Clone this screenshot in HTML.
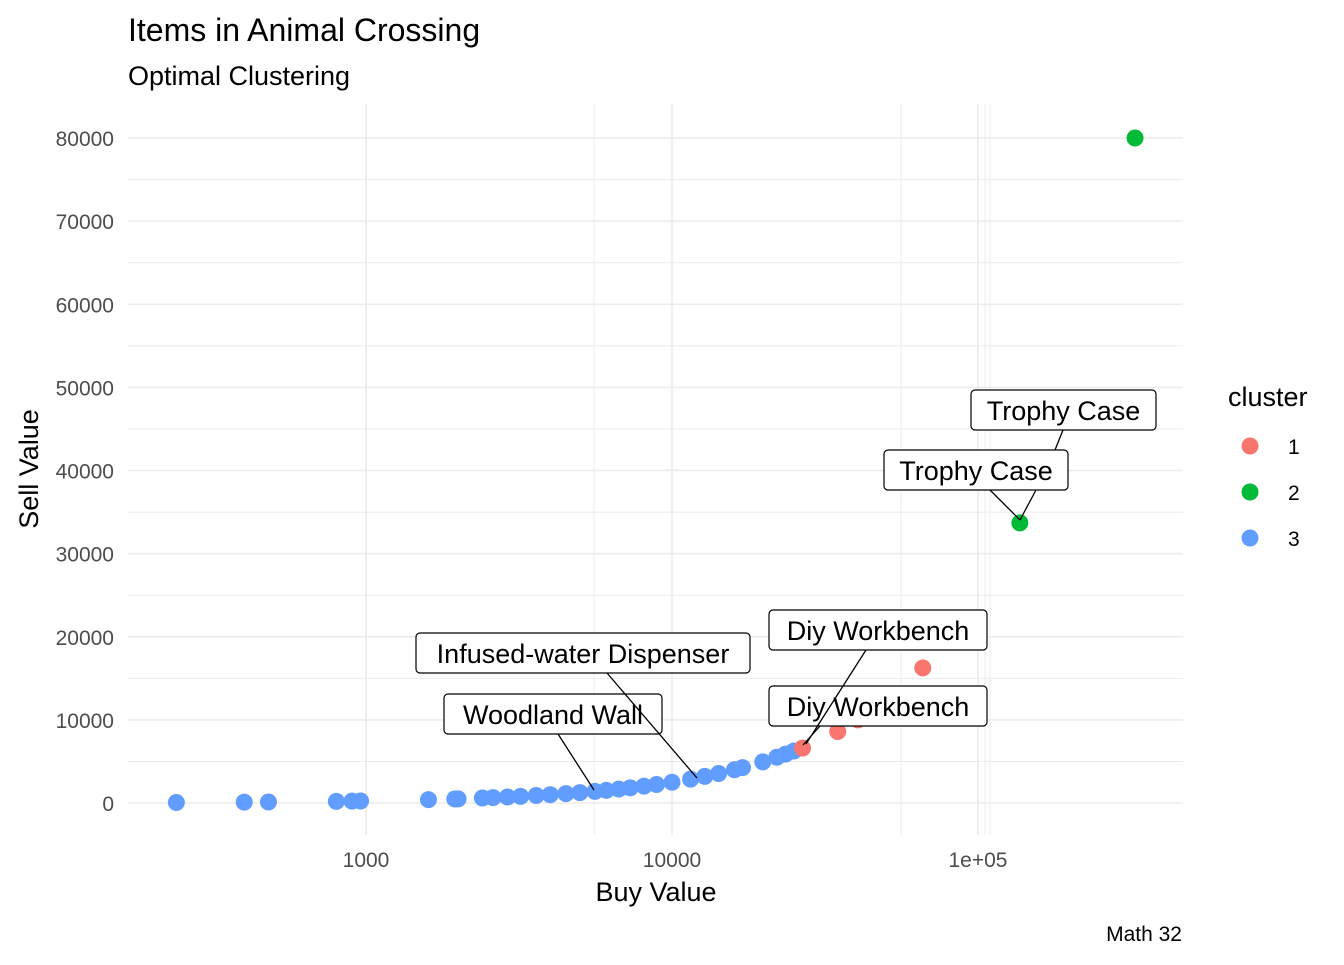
<!DOCTYPE html>
<html><head><meta charset="utf-8"><style>
body{margin:0;background:#fff;font-family:"Liberation Sans",Arial,sans-serif}
svg text{font-family:"Liberation Sans",Arial,sans-serif}
</style></head><body>
<svg id="c" width="1344" height="960">
<rect width="1344" height="960" fill="#fff"/>
<text x="128" y="41" font-size="32" fill="#000">Items in Animal Crossing</text>
<text x="128" y="85" font-size="27" fill="#000">Optimal Clustering</text>
<g id="grid"></g>
<g id="yticks"></g>
<g id="xticks"></g>
<text x="656" y="901" font-size="27" text-anchor="middle">Buy Value</text>
<text transform="translate(38,469) rotate(-90)" font-size="27" text-anchor="middle">Sell Value</text>
<g id="pts"></g>
<g id="labels"></g>
<g id="legend">
<text x="1228" y="406" font-size="27">cluster</text>
</g>
<text x="1182" y="941" font-size="21" text-anchor="end">Math 32</text>
</svg>
<script>
const NS="http://www.w3.org/2000/svg";
const yTicks=[0,10000,20000,30000,40000,50000,60000,70000,80000];
const xTicks=[1000,10000,100000];
const xTickLabels=["1000","10000","1e+05"];
const clusterNames=["1","2","3"];
const clusterColors=["#F8766D","#00BA38","#619CFF"];
const buy3=[240,400,480,800,900,960,1600,1950,2000,2400,2600,2900,3200,3600,4000,4500,5000,5600,6100,6700,7300,8100,8900,10000,11500,12800,14200,16000,17000,19800,22000,23500,25000];
const sell3=[60,100,120,200,225,240,400,488,500,600,650,725,800,900,1000,1125,1250,1400,1525,1675,1825,2025,2225,2500,2875,3200,3550,4000,4250,4950,5500,5875,6250];
const buy1=[26700,34800,40500,66000];
const sell1=[6600,8600,10000,16250];
const buy2=[137000,326000];
const sell2=[33700,80000];
const X=v=>366+306*(Math.log10(v)-3);
const Y=v=>803-v*665/80000;
function el(t,a,p){const e=document.createElementNS(NS,t);for(const k in a)e.setAttribute(k,a[k]);p.appendChild(e);return e;}
const g=document.getElementById('grid');
for(let i=0;i<=16;i++){const v=i*5000;const l=el('line',{x1:128,x2:1183,y1:Y(v),y2:Y(v),stroke:'#ebebeb','stroke-width':i%2?1:1.6},g);

}
[594,901,985,990].forEach(x=>{const l=el('line',{x1:x,x2:x,y1:104,y2:835,stroke:'#ebebeb','stroke-width':1},g);

});
xTicks.forEach(v=>{const l=el('line',{x1:X(v),x2:X(v),y1:104,y2:835,stroke:'#ebebeb','stroke-width':1.6},g);

});
const yt=document.getElementById('yticks');
yTicks.forEach(v=>{const t=el('text',{x:114,y:Y(v)+8,'font-size':21,'text-anchor':'end',fill:'#4d4d4d'},yt);t.textContent=v;

});
const xt=document.getElementById('xticks');
xTicks.forEach((v,i)=>{const t=el('text',{x:X(v),y:867,'font-size':21,'text-anchor':'middle',fill:'#4d4d4d'},xt);t.textContent=xTickLabels[i];

});
const P=document.getElementById('pts');
[[buy3,sell3,2],[buy1,sell1,0],[buy2,sell2,1]].forEach(([b,s,c])=>{b.forEach((v,i)=>{const e=el('circle',{cx:X(v),cy:Y(s[i]),r:8.5,fill:clusterColors[c]},P);

});});
const L=document.getElementById('labels');
const boxes=[[971,390,185,"Trophy Case"],[884,450,184,"Trophy Case"],[769,610,218,"Diy Workbench"],[769,686,218,"Diy Workbench"],[416,633,334,"Infused-water Dispenser"],[444,694,218,"Woodland Wall"]];
boxes.forEach(b=>{const r=el('rect',{x:b[0],y:b[1],width:b[2],height:40,rx:4,fill:'#fff',stroke:'#000','stroke-width':1.2},L);


const t=el('text',{x:b[0]+b[2]/2,y:b[1]+30,'font-size':27,'text-anchor':'middle'},L);t.textContent=b[3];

});
const segs=[[558,734,594,790],[607,673,697,778],[866,650,806,744],[820,726,803,745],[990,490,1020,520],[1036,490,1020,520],[1063,430,1055,450]];
segs.forEach(s=>{const e=el('line',{x1:s[0],y1:s[1],x2:s[2],y2:s[3],stroke:'#000','stroke-width':1.3},L);

});
const lg=document.getElementById('legend');
clusterNames.forEach((n,i)=>{const y=446+i*46;const c=el('circle',{cx:1250,cy:y,r:8.5,fill:clusterColors[i]},lg);


const t=el('text',{x:1288,y:y+8,'font-size':21},lg);t.textContent=n;

});
</script>
</body></html>
